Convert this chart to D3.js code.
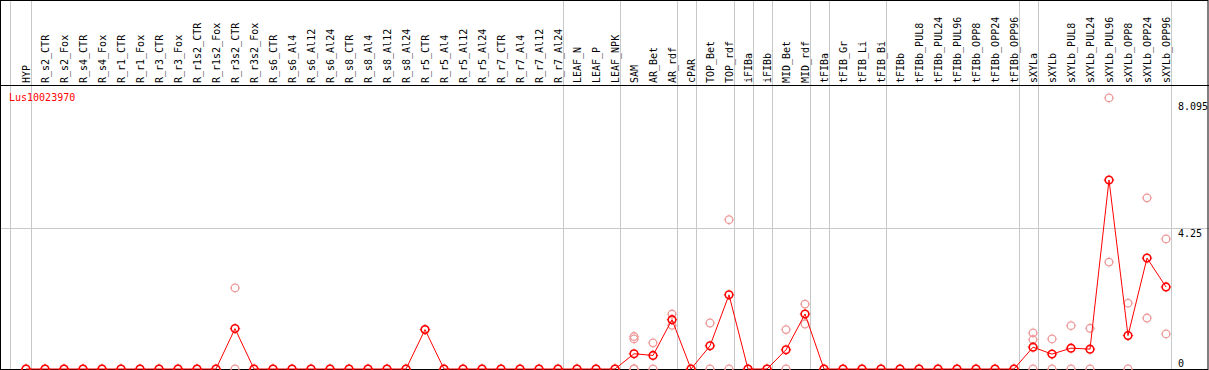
<!DOCTYPE html>
<html>
<head>
<meta charset="utf-8">
<script src="https://cdn.jsdelivr.net/npm/d3@7"></script>
<style>
  body { margin: 0; background: #fff; }
  text { font-family: "DejaVu Sans Mono", monospace; font-size: 10px; }
</style>
</head>
<body>
<div id="viz"></div>
<script>
var samples = ["HYP", "R_s2_CTR", "R_s2_Fox", "R_s4_CTR", "R_s4_Fox", "R_r1_CTR", "R_r1_Fox",
  "R_r3_CTR", "R_r3_Fox", "R_r1s2_CTR", "R_r1s2_Fox", "R_r3s2_CTR", "R_r3s2_Fox", "R_s6_CTR",
  "R_s6_Al4", "R_s6_Al12", "R_s6_Al24", "R_s8_CTR", "R_s8_Al4", "R_s8_Al12", "R_s8_Al24",
  "R_r5_CTR", "R_r5_Al4", "R_r5_Al12", "R_r5_Al24", "R_r7_CTR", "R_r7_Al4", "R_r7_Al12",
  "R_r7_Al24", "LEAF_N", "LEAF_P", "LEAF_NPK", "SAM", "AR_Bet", "AR_rdf", "cPAR", "TOP_Bet",
  "TOP_rdf", "iFIBa", "iFIBb", "MID_Bet", "MID_rdf", "tFIBa", "tFIB_Gr", "tFIB_Li", "tFIB_Bi",
  "tFIBb", "tFIBb_PUL8", "tFIBb_PUL24", "tFIBb_PUL96", "tFIBb_OPP8", "tFIBb_OPP24",
  "tFIBb_OPP96", "sXYLa", "sXYLb", "sXYLb_PUL8", "sXYLb_PUL24", "sXYLb_PUL96", "sXYLb_OPP8",
  "sXYLb_OPP24", "sXYLb_OPP96"];

// mean expression per sample
var means = [0, 0, 0, 0, 0, 0, 0, 0, 0, 0, 0, 1.22, 0, 0, 0, 0, 0, 0, 0, 0, 0,
  1.19, 0, 0, 0, 0, 0, 0, 0, 0, 0, 0, 0.46, 0.41, 1.49, 0, 0.70, 2.24, 0, 0, 0.58, 1.66,
  0, 0, 0, 0, 0, 0, 0, 0, 0, 0, 0, 0.66, 0.45, 0.63, 0.60, 5.71, 1.01, 3.35, 2.48];

// replicate values (pale circles), by sample name; others are [0]
var replicates = {
  "R_r3s2_CTR": [2.45, 0],
  "R_r5_CTR": [1.19],
  "SAM": [0.98, 0.91, 0, 0],
  "AR_Bet": [0.79, 0],
  "AR_rdf": [1.66, 1.32],
  "TOP_Bet": [1.39, 0],
  "TOP_rdf": [4.51, 0],
  "MID_Bet": [1.19, 0],
  "MID_rdf": [1.96, 1.36],
  "sXYLa": [1.09, 0.89, 0],
  "sXYLb": [0.91, 0],
  "sXYLb_PUL8": [1.31, 0],
  "sXYLb_PUL24": [1.23, 0],
  "sXYLb_PUL96": [8.19, 3.23],
  "sXYLb_OPP8": [1.99, 0],
  "sXYLb_OPP24": [5.17, 1.54],
  "sXYLb_OPP96": [3.93, 1.06]
};

// last sample of each group (separator drawn after it)
var groupEnds = ["HYP", "R_r7_Al24", "LEAF_NPK", "AR_rdf", "cPAR", "TOP_rdf", "iFIBa", "iFIBb",
  "MID_rdf", "tFIBa", "tFIB_Bi", "tFIBb_OPP96", "sXYLa", "sXYLb_OPP96"];

var yTicks = [0, 4.25, 8.095];
var geneName = "Lus10023970";

var width = 1209, height = 370,
  headerBottom = 85, plotBottom = 369, plotRight = 1170;

var svg = d3.select("#viz").append("svg")
  .attr("width", width)
  .attr("height", height);

var x = d3.scalePoint().domain(samples).range([26, 1166]);
var y = d3.scaleLinear().domain([0, 8.58]).range([plotBottom, headerBottom]);

// horizontal grid at mid tick
svg.append("line")
  .attr("x1", 0).attr("x2", width)
  .attr("y1", Math.round(y(4.25)) + 0.5).attr("y2", Math.round(y(4.25)) + 0.5)
  .style("stroke", "#c8c8c8");

// group separators
var sepX = [x(samples[0]) - 16].concat(groupEnds.map(function (d) { return x(d) + 4.5; }));
svg.selectAll(".sep")
  .data(sepX)
  .enter().append("line")
  .attr("class", "sep")
  .attr("x1", function (d) { return Math.round(d) + 0.5; })
  .attr("x2", function (d) { return Math.round(d) + 0.5; })
  .attr("y1", 0).attr("y2", plotBottom)
  .style("stroke", "#c8c8c8");

// frame
svg.append("rect")
  .attr("x", 0.5).attr("y", 0.5)
  .attr("width", 1207.5).attr("height", plotBottom)
  .style("fill", "none").style("stroke", "#000");
svg.append("line")
  .attr("x1", 0).attr("x2", width)
  .attr("y1", headerBottom + 0.5).attr("y2", headerBottom + 0.5)
  .style("stroke", "#000");

// sample labels
svg.selectAll(".lab")
  .data(samples)
  .enter().append("text")
  .attr("class", "lab")
  .attr("transform", function (d) { return "translate(" + (x(d) + 4) + "," + (headerBottom - 2) + ") rotate(-90)"; })
  .style("fill", "#000")
  .text(function (d) { return d; });

// y tick labels
var tickBase = { 0: -2, 4.25: 9, 8.095: 9 };
svg.selectAll(".ytick")
  .data(yTicks)
  .enter().append("text")
  .attr("class", "ytick")
  .attr("x", plotRight + 8)
  .attr("y", function (d) { return y(d) + tickBase[d]; })
  .style("fill", "#000")
  .text(function (d) { return d; });

// gene name
svg.append("text")
  .attr("x", 9).attr("y", 101)
  .style("fill", "#ff0000")
  .text(geneName);

// marker: circle with tiny ticks
function marker(g, color, width) {
  g.append("circle").attr("r", 3.8)
    .style("fill", "none").style("stroke", color).style("stroke-width", width);
  g.append("path").attr("d", "M0,-5.2V-4.3M0,4.3V5.2M-5.2,0H-4.3M4.3,0H5.2")
    .style("stroke", color).style("stroke-width", 1);
}

// replicate points
var reps = [];
samples.forEach(function (s) {
  (replicates[s] || [0]).forEach(function (v) { reps.push({ s: s, v: v }); });
});
svg.selectAll(".rep")
  .data(reps)
  .enter().append("g")
  .attr("class", "rep")
  .attr("transform", function (d) { return "translate(" + x(d.s) + "," + y(d.v) + ")"; })
  .each(function () { marker(d3.select(this), "#ee9a9a", 1.3); });

// mean line
var pts = samples.map(function (s, i) { return { s: s, v: means[i] }; });
svg.append("path")
  .datum(pts)
  .attr("d", d3.line().x(function (d) { return x(d.s); }).y(function (d) { return y(d.v); }))
  .style("fill", "none").style("stroke", "#ff0000").style("stroke-width", 1);

svg.selectAll(".mean")
  .data(pts)
  .enter().append("g")
  .attr("class", "mean")
  .attr("transform", function (d) { return "translate(" + x(d.s) + "," + y(d.v) + ")"; })
  .each(function () { marker(d3.select(this), "#ff0000", 1.6); });
</script>
</body>
</html>
